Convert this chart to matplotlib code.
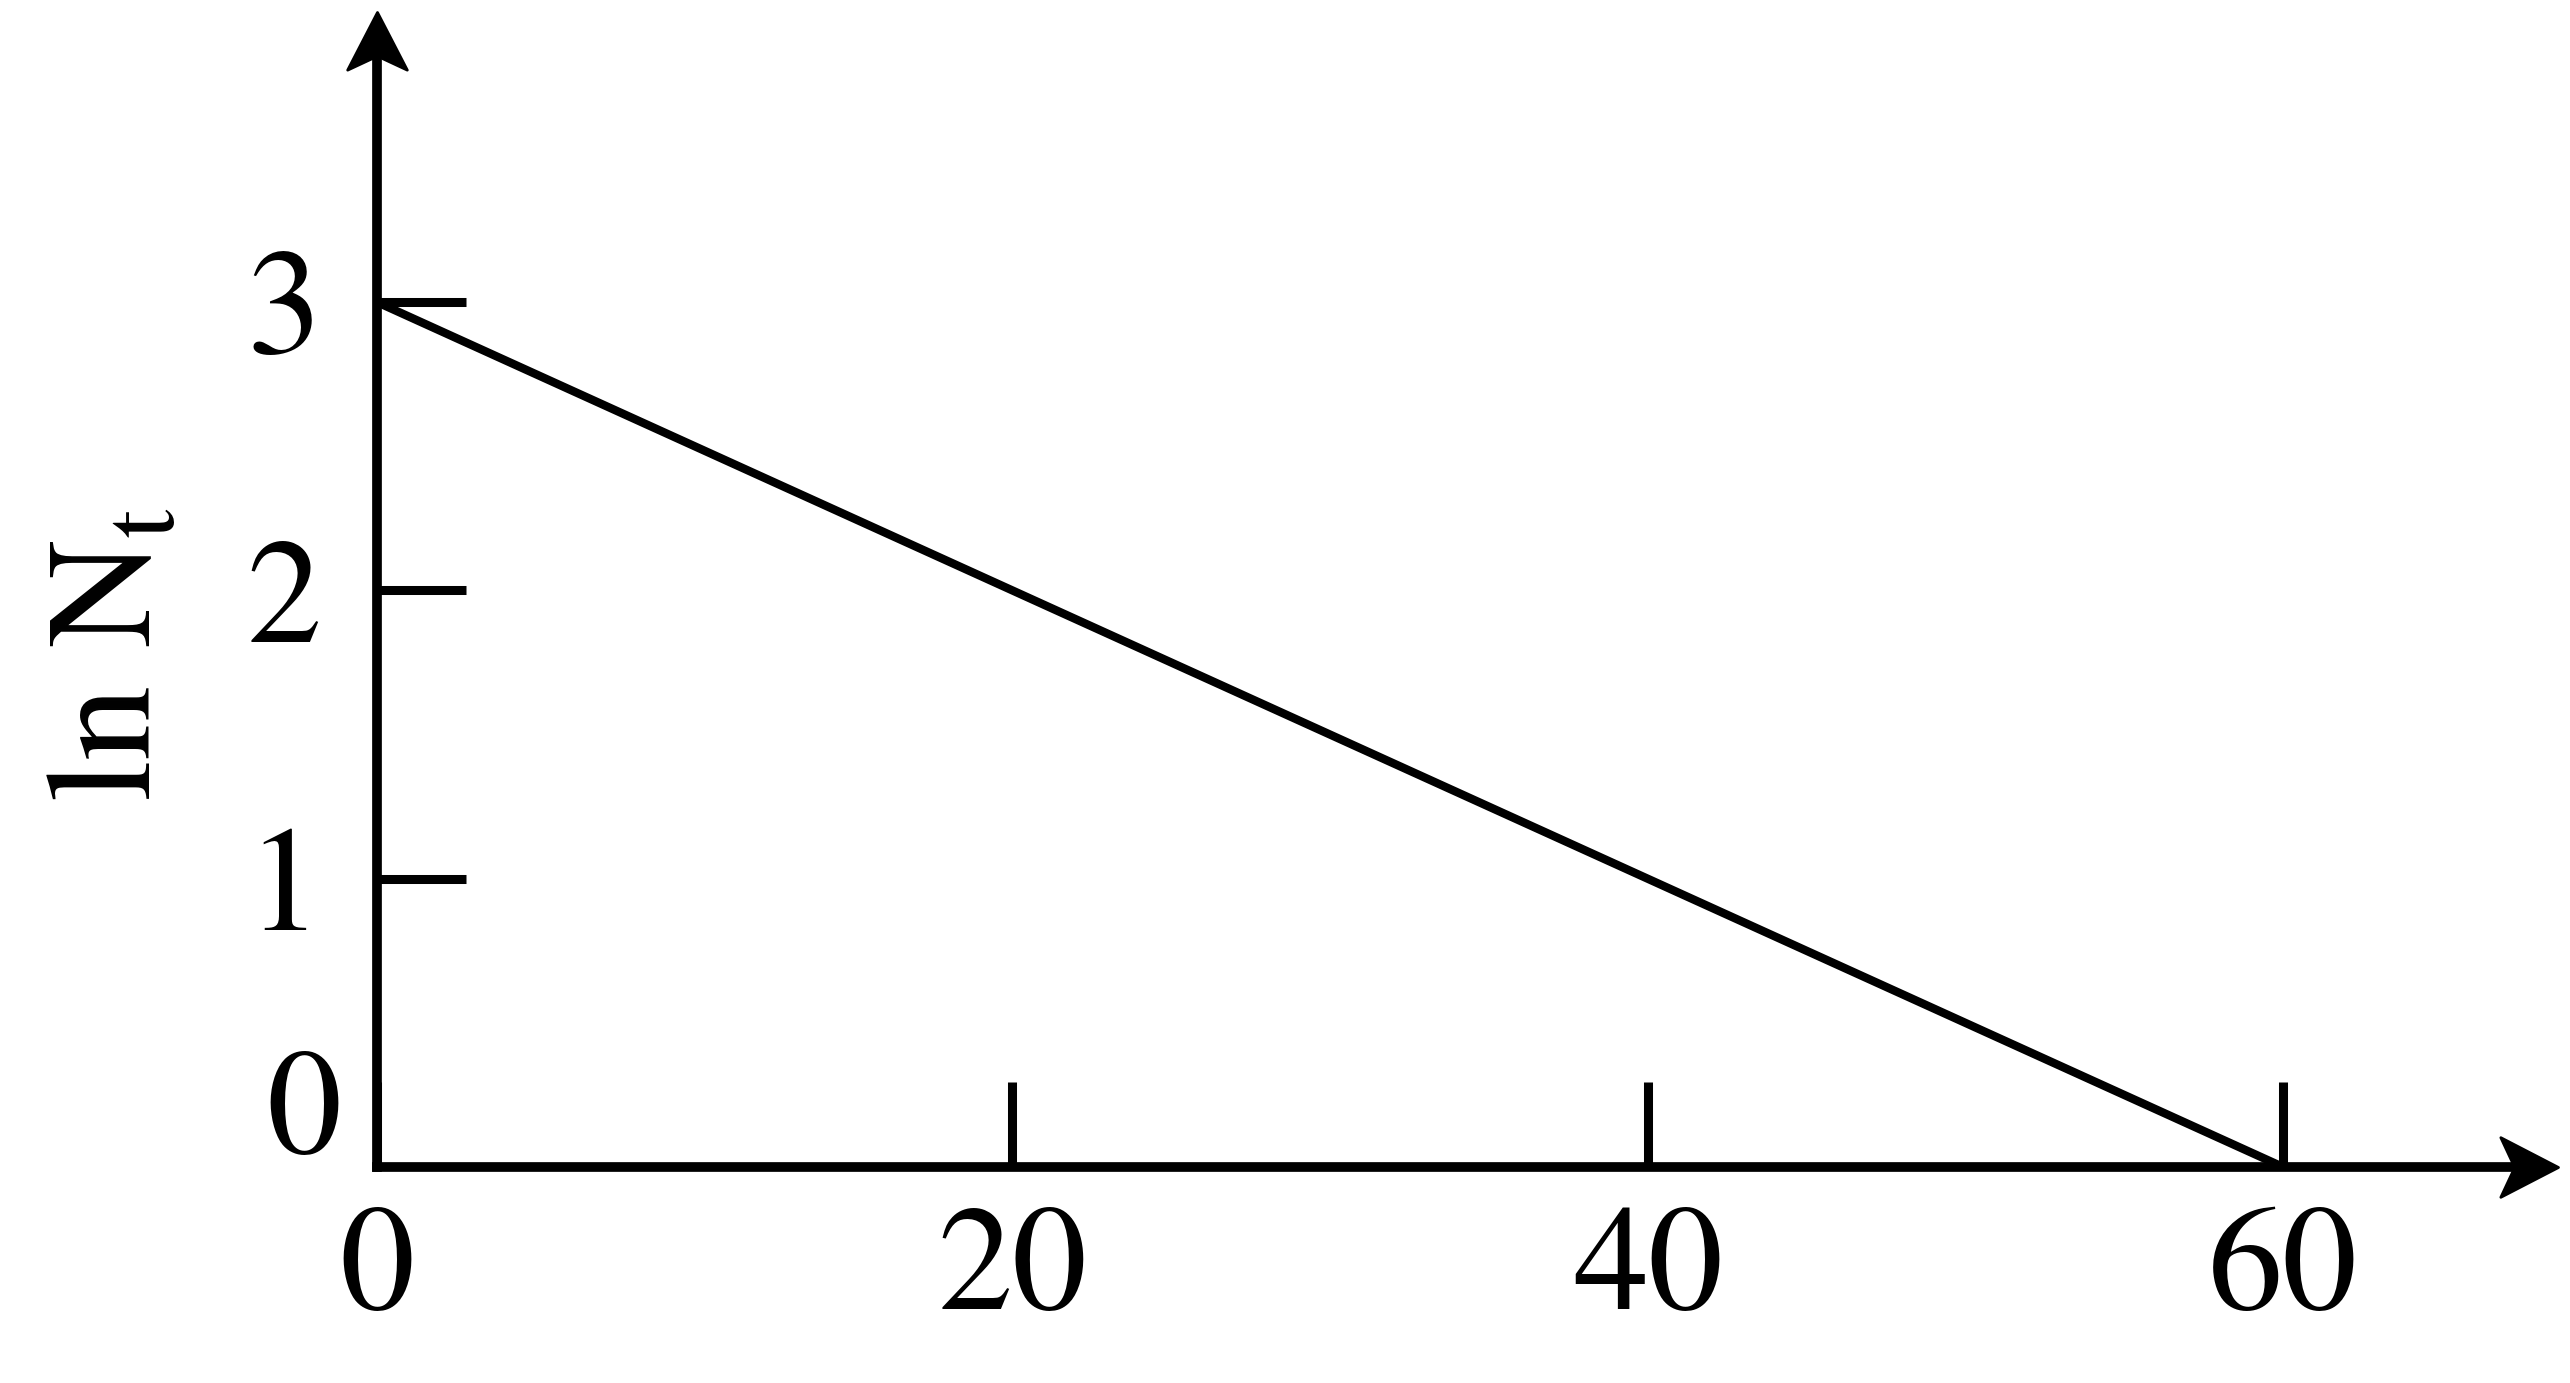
import matplotlib
matplotlib.use('Agg')
from matplotlib import pyplot as plt
from matplotlib.path import Path

plt.rcParams['font.family'] = ['TeX Gyre Termes', 'Liberation Serif', 'DejaVu Serif']
plt.rcParams['mathtext.fontset'] = 'custom'
plt.rcParams['mathtext.rm'] = 'TeX Gyre Termes'

# data: ln N_t falls linearly from 3 to 0 over 60 units
t = [0, 60]
lnN = [3, 0]
x_ticks = [0, 20, 40, 60]
y_ticks = [1, 2, 3]
x_tick_labels = ['0', '20', '40', '60']
y_tick_labels = ['1', '2', '3']

fig = plt.figure(figsize=(25.7, 13.83), dpi=100)
ax = fig.add_axes([0, 0, 1, 1])
ax.set_xlim(-11.87, 69.03)
ax.set_ylim(-0.749, 4.048)
x_end = 68.65
y_end = 4.006

ax.plot(t, lnN, color='black', lw=6, solid_capstyle='butt')

# axes through the origin
for side in ['top', 'right']:
    ax.spines[side].set_visible(False)
ax.spines['left'].set_position(('data', 0))
ax.spines['bottom'].set_position(('data', 0))
ax.spines['left'].set_bounds(0, y_end - 0.12)
ax.spines['bottom'].set_bounds(0, x_end - 1.2)
for side in ['left', 'bottom']:
    ax.spines[side].set_linewidth(7)
    ax.spines[side].set_capstyle('projecting')

ax.set_xticks(x_ticks)
ax.set_xticklabels(x_tick_labels)
ax.set_yticks(y_ticks)
ax.set_yticklabels(y_tick_labels)
ax.tick_params(axis='x', direction='in', length=61, width=6.5, labelsize=108, pad=28)
ax.tick_params(axis='y', direction='in', length=64, width=6.5, labelsize=108, pad=40)
ax.text(-2.3, 0.17, '0', fontsize=108, ha='center', va='center')

# arrow heads (notched)
right_head = Path([(0, 0), (-58, 30), (-44, 0), (-58, -30), (0, 0)],
                  [Path.MOVETO, Path.LINETO, Path.LINETO, Path.LINETO, Path.CLOSEPOLY])
up_head = Path([(0, 0), (30, -58), (0, -44), (-30, -58), (0, 0)],
               [Path.MOVETO, Path.LINETO, Path.LINETO, Path.LINETO, Path.CLOSEPOLY])
ax.plot([x_end], [0], marker=right_head, markersize=83, color='black',
        markeredgewidth=2, linestyle='none')
ax.plot([0], [y_end], marker=up_head, markersize=83, color='black',
        markeredgewidth=2, linestyle='none')

fig.text(116 / 2570, 1 - 654 / 1383, r'ln N$_\mathregular{t}$', fontsize=108,
         rotation=90, ha='center', va='center')

plt.savefig('out.png', dpi=100)
